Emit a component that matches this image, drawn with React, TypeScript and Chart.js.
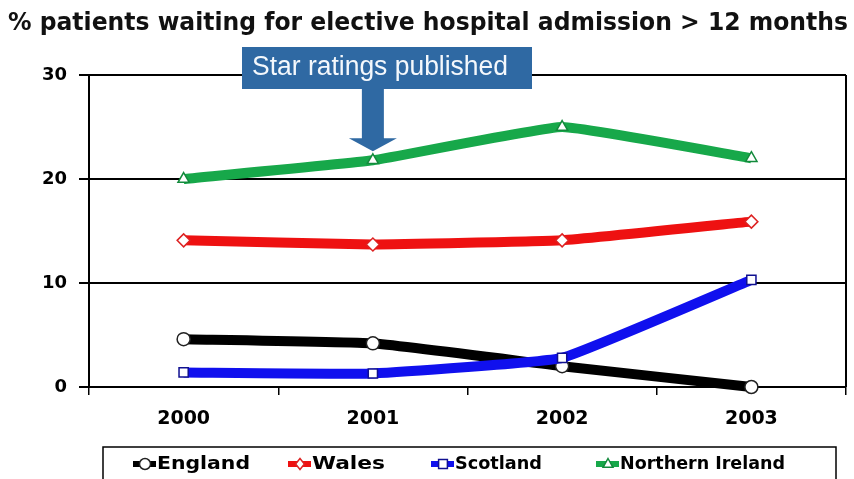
import React, { useEffect, useRef } from "react";
import { Chart, registerables } from "chart.js";

Chart.register(...registerables);

const years = ["2000", "2001", "2002", "2003"];
const england = [4.6, 4.2, 2.0, 0.0];
const wales = [14.1, 13.7, 14.1, 15.9];
const scotland = [1.4, 1.3, 2.8, 10.3];
const northernIreland = [20.0, 21.8, 25.0, 22.0];
const yTicks = [0, 10, 20, 30];

const titleText = "% patients waiting for elective hospital admission > 12 months";
const annotationText = "Star ratings published";

const seriesNames = ["England", "Wales", "Scotland", "Northern Ireland"];
const seriesColors = ["#000000", "#EE1111", "#1010EE", "#17A84A"];
const markerBorders = ["#222222", "#DD2222", "#101090", "#138A3C"];
const pointStyles = ["circle", "rectRot", "rect", "triangle"];

// legend layout (text start x, text width)
const legendTextX = [157, 312, 455, 620];
const legendTextW = [93, 73, 87, 165];

function fitText(ctx: CanvasRenderingContext2D, text: string, x: number, y: number, w: number, font: string, color: string) {
  ctx.save();
  ctx.font = font;
  ctx.fillStyle = color;
  ctx.textBaseline = "middle";
  ctx.textAlign = "left";
  const m = ctx.measureText(text).width;
  ctx.translate(x, y);
  ctx.scale(w / m, 1);
  ctx.fillText(text, 0, 0);
  ctx.restore();
}

function drawMarker(ctx: CanvasRenderingContext2D, style: string, x: number, y: number, r: number, stroke: string) {
  ctx.save();
  ctx.fillStyle = "#ffffff";
  ctx.strokeStyle = stroke;
  ctx.lineWidth = 1.5;
  ctx.beginPath();
  if (style === "circle") {
    ctx.arc(x, y, r, 0, Math.PI * 2);
  } else if (style === "rectRot") {
    ctx.moveTo(x, y - r);
    ctx.lineTo(x + r * 0.8, y);
    ctx.lineTo(x, y + r);
    ctx.lineTo(x - r * 0.8, y);
    ctx.closePath();
  } else if (style === "rect") {
    ctx.rect(x - r * 0.8, y - r * 0.8, r * 1.6, r * 1.6);
  } else {
    ctx.moveTo(x, y - r);
    ctx.lineTo(x + r * 0.9, y + r * 0.6);
    ctx.lineTo(x - r * 0.9, y + r * 0.6);
    ctx.closePath();
  }
  ctx.fill();
  ctx.stroke();
  ctx.restore();
}

const decorPlugin = {
  id: "decor",
  afterDraw(chart: any) {
    const ctx: CanvasRenderingContext2D = chart.ctx;
    const area = chart.chartArea;
    const xs = chart.scales.x;
    const ys = chart.scales.y;

    // right border
    ctx.save();
    ctx.strokeStyle = "#000";
    ctx.lineWidth = 2;
    ctx.beginPath();
    ctx.moveTo(area.right, area.top);
    ctx.lineTo(area.right, area.bottom);
    ctx.stroke();
    ctx.restore();

    // title
    fitText(ctx, titleText, 8, 23, 840, "bold 25px 'DejaVu Sans'", "#111");

    // annotation box + arrow
    const ax = xs.getPixelForValue(1);
    const tipY = ys.getPixelForValue(northernIreland[1]) - 9;
    ctx.save();
    ctx.fillStyle = "#2F69A3";
    ctx.fillRect(242, 47, 290, 42);
    ctx.beginPath();
    ctx.moveTo(ax - 11, 89);
    ctx.lineTo(ax + 11, 89);
    ctx.lineTo(ax + 11, tipY - 13);
    ctx.lineTo(ax + 24, tipY - 13);
    ctx.lineTo(ax, tipY);
    ctx.lineTo(ax - 24, tipY - 13);
    ctx.lineTo(ax - 11, tipY - 13);
    ctx.closePath();
    ctx.fill();
    ctx.restore();
    fitText(ctx, annotationText, 252, 68, 256, "27px 'Liberation Sans'", "#F4F8FC");

    // legend
    ctx.save();
    ctx.strokeStyle = "#000";
    ctx.lineWidth = 1.5;
    ctx.strokeRect(103, 447, 733, 40);
    ctx.restore();
    const ly = 464;
    for (let i = 0; i < seriesNames.length; i++) {
      const tx = legendTextX[i];
      ctx.save();
      ctx.strokeStyle = seriesColors[i];
      ctx.lineWidth = 6;
      ctx.beginPath();
      ctx.moveTo(tx - 24, ly);
      ctx.lineTo(tx - 1, ly);
      ctx.stroke();
      ctx.restore();
      drawMarker(ctx, pointStyles[i], tx - 12, ly, 5.5, markerBorders[i]);
      fitText(ctx, seriesNames[i], tx, ly, legendTextW[i], "bold 18px 'DejaVu Sans'", "#000");
    }
  },
};

export default function App() {
  const ref = useRef<HTMLCanvasElement | null>(null);
  useEffect(() => {
    if (!ref.current) return;
    const data = [england, wales, scotland, northernIreland];
    const orders = [3, 2, 1, 0];
    const chart = new Chart(ref.current, {
      type: "line",
      data: {
        labels: years,
        datasets: data.map((d, i) => ({
          label: seriesNames[i],
          data: d,
          borderColor: seriesColors[i],
          borderWidth: 10,
          tension: 0.1,
          pointStyle: pointStyles[i] as any,
          pointRadius: 6.5,
          pointBackgroundColor: "#ffffff",
          pointBorderColor: markerBorders[i],
          pointBorderWidth: 1.5,
          order: orders[i],
          clip: 8,
        })),
      },
      options: {
        animation: false,
        responsive: false,
        layout: { padding: { top: 75, right: 7, left: 0, bottom: 0 } },
        plugins: { legend: { display: false }, title: { display: false }, tooltip: { enabled: false } },
        scales: {
          x: {
            type: "category",
            offset: true,
            grid: { offset: true, drawOnChartArea: false, drawTicks: true, tickLength: 8, color: "#000", lineWidth: 1.5 },
            border: { display: true, color: "#000", width: 2 },
            ticks: { color: "#000", padding: 13, font: { family: "'DejaVu Sans'", weight: "bold", size: 19 } },
            afterFit: (s: any) => { s.height = 92; },
          },
          y: {
            min: 0,
            max: 30,
            afterBuildTicks: (s: any) => { s.ticks = yTicks.map((v) => ({ value: v })); },
            grid: { color: "#000", lineWidth: 2, tickLength: 10 },
            border: { display: true, color: "#000", width: 2 },
            ticks: { color: "#000", padding: 12, font: { family: "'DejaVu Sans'", weight: "bold", size: 18 } },
            afterFit: (s: any) => { s.width = 89; },
          },
        },
      },
      plugins: [decorPlugin],
    } as any);
    return () => chart.destroy();
  }, []);
  return (
    <div style={{ position: "fixed", left: 0, top: 0, width: 854, height: 479, background: "#fff" }}>
      <canvas ref={ref} width={854} height={479} />
    </div>
  );
}
